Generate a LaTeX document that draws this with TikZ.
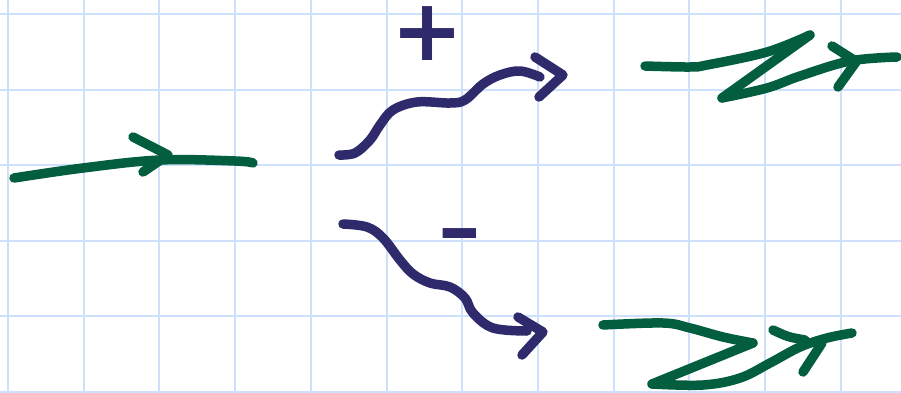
\documentclass[tikz,border=0pt]{standalone}
\usepackage{fontspec}
\newfontfamily\signfont{DejaVu Sans Bold}
\usepackage{xcolor}
\definecolor{inkgreen}{RGB}{3,94,64}
\definecolor{inknavy}{RGB}{46,42,107}
\definecolor{gridblue}{RGB}{206,224,252}

\begin{document}
\begin{tikzpicture}[
  x=1pt, y=-1pt,
  gridline/.style={draw=gridblue, line width=2pt},
  pen/.style={line width=9.5pt, line cap=round, line join=round},
  greenpen/.style={pen, draw=inkgreen},
  navypen/.style={pen, draw=inknavy},
  sign/.style={inner sep=0pt, text=inknavy,
               font=\signfont\fontsize{86}{86}\selectfont}
]
\useasboundingbox (0,0) rectangle (901,393);

% squared paper
\foreach \i in {0,...,11}
  \draw[gridline] ({8+75.7*\i},0) -- ({8+75.7*\i},393);
\foreach \j in {0,...,5}
  \draw[gridline] (0,{14+75.6*\j}) -- (901,{14+75.6*\j});

% incoming line
\draw[greenpen] plot[smooth, tension=0.6] coordinates
  {(14,178) (83,168) (160,160) (235,161) (253,163)};
\draw[greenpen] (133,137) .. controls (150,146) .. (168,155);
\draw[greenpen] (143,172) -- (162,159);

% signs
\node[sign] (plus) at (428,34) {+};
\node[sign, xscale=0.62] (minus) at (460,245) {−};

% wavy arrows
\draw[navypen] plot[smooth, tension=0.6] coordinates
  {(339,155) (355,153) (370,140) (380,125) (393,110) (417,102)
   (450,103) (465,100) (483,84) (500,75) (520,71) (540,77)};
\draw[navypen] (535,57) -- (563,75) -- (539,97);

\draw[navypen] plot[smooth, tension=0.6] coordinates
  {(343,224) (367,227) (383,238) (400,260) (413,274) (430,283)
   (450,287) (465,298) (473,313) (493,328) (527,331)};
\draw[navypen] (518,317) -- (543,332) -- (522,355);

% outgoing lines, upper
\draw[greenpen] plot[smooth, tension=0.6] coordinates
  {(645,66) (690,67) (707,65) (767,52) (810,35)};
\draw[greenpen] (810,35) -- (722,98);
\draw[greenpen] plot[smooth, tension=0.6] coordinates
  {(722,98) (767,88) (800,76) (850,61) (897,57)};
\draw[greenpen] (832,46) .. controls (843,53) .. (854,60);
\draw[greenpen] (838,87) -- (856,62);

% outgoing lines, lower
\draw[greenpen] plot[smooth, tension=0.6] coordinates
  {(603,325) (663,323) (690,328) (723,337) (753,343)};
\draw[greenpen] (753,343) -- (652,384);
\draw[greenpen] plot[smooth, tension=0.6] coordinates
  {(652,384) (703,385) (740,378) (770,363) (800,347) (827,338) (852,333)};
\draw[greenpen] (773,330) .. controls (788,337) .. (805,340);
\draw[greenpen] (803,372) -- (822,343);
\end{tikzpicture}
\end{document}
